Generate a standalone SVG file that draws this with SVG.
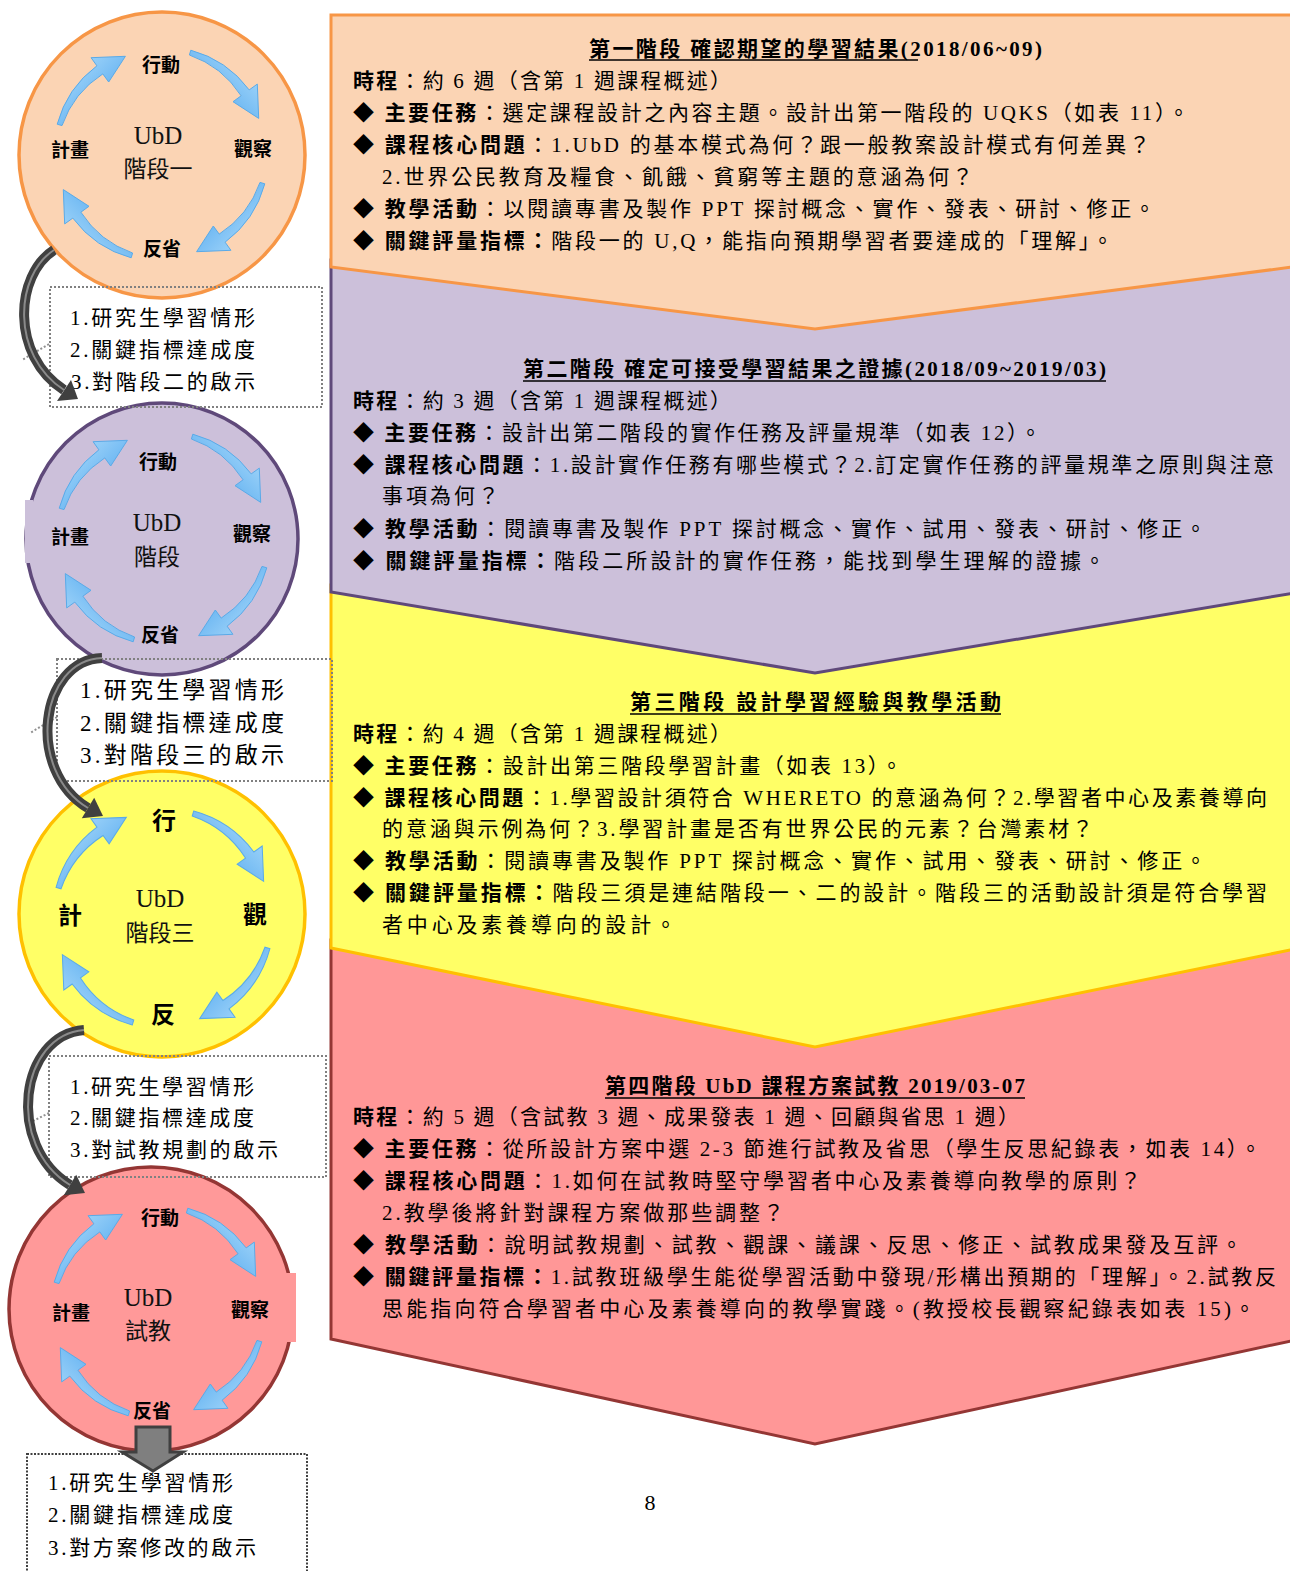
<svg xmlns="http://www.w3.org/2000/svg" xmlns:xlink="http://www.w3.org/1999/xlink" width="1290" height="1571" viewBox="0 0 1290 1571">
<style>
.t{font-family:"Liberation Serif","Noto Sans CJK TC",serif;font-size:21px;fill:#000}
.b{font-weight:bold}
.ttl{font-weight:bold;font-size:21px}
.lbl{font-family:"Noto Sans CJK TC",sans-serif;font-weight:bold;font-size:19px;fill:#000}
.lbl3{font-family:"Noto Sans CJK TC",sans-serif;font-weight:bold;font-size:24px;fill:#000}
.ubd{font-family:"Liberation Serif","Noto Sans CJK TC",serif;font-size:25px;fill:#111}
.stg{font-family:"Noto Sans CJK TC",sans-serif;font-size:23px;fill:#111}
.box{fill:none;stroke:#808080;stroke-width:2;stroke-dasharray:2 2}
.lead{fill:none;stroke:#909090;stroke-width:2;stroke-dasharray:2 2}
.ul{stroke:#000;stroke-width:1.5}
.dk{fill:none;stroke:#404040;stroke-width:10}
.dkh{fill:none;stroke:#8a8a8a;stroke-width:2}
.dkhead{fill:#404040}
</style>
<defs>
<linearGradient id="bg" x1="0" y1="0" x2="1" y2="1">
<stop offset="0" stop-color="#b8e2fc"/>
<stop offset="1" stop-color="#3d9cec"/>
</linearGradient>
<path id="ba" d="M -103.8 -29.8 A 108 108 0 0 1 -64.1 -88.2 L -69.9 -96.3 L -35.6 -97.7 L -52.3 -72.0 L -58.2 -80.1 A 101 101 0 0 0 -99.0 -28.4 Z" fill="url(#bg)" stroke="#5aaae8" stroke-width="1"/>
</defs>

<!-- chevrons -->
<g id="stage4">
<polygon points="331,940 1300,940 1300,1339 815,1444 331,1339" fill="#FF9797" stroke="#943634" stroke-width="3"/>
</g>
<g id="stage3">
<polygon points="331,585 1300,585 1300,948 815,1047 331,948" fill="#FFFF66" stroke="#FFC000" stroke-width="3"/>
</g>
<g id="stage2">
<polygon points="331,260 1300,260 1300,592 815,673 331,592" fill="#CCC0DA" stroke="#5F497A" stroke-width="3"/>
</g>
<g id="stage1">
<polygon points="331,15 1300,15 1300,266 815,329 331,267" fill="#FBD4B4" stroke="#F79646" stroke-width="3"/>
</g>

<!-- stage texts -->
<g id="stage1-text" class="t">
<text class="t ttl" x="589" y="56" textLength="453" lengthAdjust="spacing">第一階段 確認期望的學習結果(2018/06~09)</text>
<line class="ul" x1="589" y1="60" x2="918" y2="60"/>
<text class="t" x="353" y="88" textLength="378" lengthAdjust="spacing"><tspan class="b">時程</tspan>：約 6 週（含第 1 週課程概述）</text>
<text class="t" x="353" y="120" textLength="836" lengthAdjust="spacing">◆ <tspan class="b">主要任務</tspan>：選定課程設計之內容主題。設計出第一階段的 UQKS（如表 11）。</text>
<text class="t" x="353" y="152" textLength="797" lengthAdjust="spacing">◆ <tspan class="b">課程核心問題</tspan>：1.UbD 的基本模式為何？跟一般教案設計模式有何差異？</text>
<text class="t" x="382" y="184" textLength="591" lengthAdjust="spacing">2.世界公民教育及糧食、飢餓、貧窮等主題的意涵為何？</text>
<text class="t" x="353" y="216" textLength="802" lengthAdjust="spacing">◆ <tspan class="b">教學活動</tspan>：以閱讀專書及製作 PPT 探討概念、實作、發表、研討、修正。</text>
<text class="t" x="353" y="248" textLength="760" lengthAdjust="spacing">◆ <tspan class="b">關鍵評量指標：</tspan>階段一的 U,Q，能指向預期學習者要達成的「理解」。</text>
</g>
<g id="stage2-text">
<text class="t ttl" x="523" y="376" textLength="583" lengthAdjust="spacing">第二階段 確定可接受學習結果之證據(2018/09~2019/03)</text>
<line class="ul" x1="523" y1="381" x2="1106" y2="381"/>
<text class="t" x="353" y="408" textLength="378" lengthAdjust="spacing"><tspan class="b">時程</tspan>：約 3 週（含第 1 週課程概述）</text>
<text class="t" x="353" y="440" textLength="688" lengthAdjust="spacing">◆ <tspan class="b">主要任務</tspan>：設計出第二階段的實作任務及評量規準（如表 12）。</text>
<text class="t" x="353" y="472" textLength="921" lengthAdjust="spacing">◆ <tspan class="b">課程核心問題</tspan>：1.設計實作任務有哪些模式？2.訂定實作任務的評量規準之原則與注意</text>
<text class="t" x="382" y="503" textLength="117" lengthAdjust="spacing">事項為何？</text>
<text class="t" x="353" y="536" textLength="853" lengthAdjust="spacing">◆ <tspan class="b">教學活動</tspan>：閱讀專書及製作 PPT 探討概念、實作、試用、發表、研討、修正。</text>
<text class="t" x="353" y="568" textLength="752" lengthAdjust="spacing">◆ <tspan class="b">關鍵評量指標：</tspan>階段二所設計的實作任務，能找到學生理解的證據。</text>
</g>
<g id="stage3-text">
<text class="t ttl" x="630" y="709" textLength="371" lengthAdjust="spacing">第三階段 設計學習經驗與教學活動</text>
<line class="ul" x1="630" y1="714" x2="1001" y2="714"/>
<text class="t" x="353" y="741" textLength="378" lengthAdjust="spacing"><tspan class="b">時程</tspan>：約 4 週（含第 1 週課程概述）</text>
<text class="t" x="353" y="773" textLength="549" lengthAdjust="spacing">◆ <tspan class="b">主要任務</tspan>：設計出第三階段學習計畫（如表 13）。</text>
<text class="t" x="353" y="805" textLength="914" lengthAdjust="spacing">◆ <tspan class="b">課程核心問題</tspan>：1.學習設計須符合 WHERETO 的意涵為何？2.學習者中心及素養導向</text>
<text class="t" x="382" y="836" textLength="711" lengthAdjust="spacing">的意涵與示例為何？3.學習計畫是否有世界公民的元素？台灣素材？</text>
<text class="t" x="353" y="868" textLength="853" lengthAdjust="spacing">◆ <tspan class="b">教學活動</tspan>：閱讀專書及製作 PPT 探討概念、實作、試用、發表、研討、修正。</text>
<text class="t" x="353" y="900" textLength="914" lengthAdjust="spacing">◆ <tspan class="b">關鍵評量指標：</tspan>階段三須是連結階段一、二的設計。階段三的活動設計須是符合學習</text>
<text class="t" x="382" y="932" textLength="294" lengthAdjust="spacing">者中心及素養導向的設計。</text>
</g>
<g id="stage4-text">
<text class="t ttl" x="605" y="1093" textLength="420" lengthAdjust="spacing">第四階段 UbD 課程方案試教 2019/03-07</text>
<line class="ul" x1="605" y1="1098" x2="1025" y2="1098"/>
<text class="t" x="353" y="1124" textLength="666" lengthAdjust="spacing"><tspan class="b">時程</tspan>：約 5 週（含試教 3 週、成果發表 1 週、回顧與省思 1 週）</text>
<text class="t" x="353" y="1156" textLength="908" lengthAdjust="spacing">◆ <tspan class="b">主要任務</tspan>：從所設計方案中選 2-3 節進行試教及省思（學生反思紀錄表，如表 14）。</text>
<text class="t" x="353" y="1188" textLength="788" lengthAdjust="spacing">◆ <tspan class="b">課程核心問題</tspan>：1.如何在試教時堅守學習者中心及素養導向教學的原則？</text>
<text class="t" x="382" y="1220" textLength="402" lengthAdjust="spacing">2.教學後將針對課程方案做那些調整？</text>
<text class="t" x="353" y="1252" textLength="889" lengthAdjust="spacing">◆ <tspan class="b">教學活動</tspan>：說明試教規劃、試教、觀課、議課、反思、修正、試教成果發及互評。</text>
<text class="t" x="353" y="1284" textLength="923" lengthAdjust="spacing">◆ <tspan class="b">關鍵評量指標：</tspan>1.試教班級學生能從學習活動中發現/形構出預期的「理解」。2.試教反</text>
<text class="t" x="382" y="1316" textLength="873" lengthAdjust="spacing">思能指向符合學習者中心及素養導向的教學實踐。(教授校長觀察紀錄表如表 15)。</text>
</g>

<!-- circles -->
<g id="cycle1">
<circle cx="162" cy="155" r="143" fill="#FBD4B4" stroke="#F79646" stroke-width="3.5"/>
<use xlink:href="#ba" href="#ba" transform="translate(161,154)"/>
<use xlink:href="#ba" href="#ba" transform="translate(161,154) rotate(90)"/>
<use xlink:href="#ba" href="#ba" transform="translate(161,154) rotate(180)"/>
<use xlink:href="#ba" href="#ba" transform="translate(161,154) rotate(270)"/>
<text class="ubd" x="158" y="135" text-anchor="middle" dominant-baseline="central">UbD</text>
<text class="stg" x="158" y="167" text-anchor="middle" dominant-baseline="central">階段一</text>
<text class="lbl" x="161" y="63" text-anchor="middle" dominant-baseline="central">行動</text>
<text class="lbl" x="70" y="148" text-anchor="middle" dominant-baseline="central">計畫</text>
<text class="lbl" x="253" y="147" text-anchor="middle" dominant-baseline="central">觀察</text>
<text class="lbl" x="162" y="247" text-anchor="middle" dominant-baseline="central">反省</text>
</g>
<g id="cycle2">
<circle cx="162" cy="539" r="136" fill="#CCC0DA" stroke="#5F497A" stroke-width="3.5"/>
<rect x="25" y="500" width="8" height="63" fill="#CCC0DA"/>
<use xlink:href="#ba" href="#ba" transform="translate(163,538)"/>
<use xlink:href="#ba" href="#ba" transform="translate(163,538) rotate(90)"/>
<use xlink:href="#ba" href="#ba" transform="translate(163,538) rotate(180)"/>
<use xlink:href="#ba" href="#ba" transform="translate(163,538) rotate(270)"/>
<text class="ubd" x="157" y="522" text-anchor="middle" dominant-baseline="central">UbD</text>
<text class="stg" x="157" y="555" text-anchor="middle" dominant-baseline="central">階段</text>
<text class="lbl" x="158" y="460" text-anchor="middle" dominant-baseline="central">行動</text>
<text class="lbl" x="70" y="535" text-anchor="middle" dominant-baseline="central">計畫</text>
<text class="lbl" x="252" y="532" text-anchor="middle" dominant-baseline="central">觀察</text>
<text class="lbl" x="160" y="633" text-anchor="middle" dominant-baseline="central">反省</text>
</g>
<g id="cycle3">
<circle cx="162" cy="914" r="143" fill="#FFFF66" stroke="#FFC000" stroke-width="3.5"/>
<use xlink:href="#ba" href="#ba" transform="translate(163,918) scale(1.03)"/>
<use xlink:href="#ba" href="#ba" transform="translate(163,918) rotate(90) scale(1.03)"/>
<use xlink:href="#ba" href="#ba" transform="translate(163,918) rotate(180) scale(1.03)"/>
<use xlink:href="#ba" href="#ba" transform="translate(163,918) rotate(270) scale(1.03)"/>
<text class="ubd" x="160" y="898" text-anchor="middle" dominant-baseline="central">UbD</text>
<text class="stg" x="160" y="931" text-anchor="middle" dominant-baseline="central">階段三</text>
<text class="lbl3" x="164" y="818" text-anchor="middle" dominant-baseline="central">行</text>
<text class="lbl3" x="70" y="913" text-anchor="middle" dominant-baseline="central">計</text>
<text class="lbl3" x="255" y="912" text-anchor="middle" dominant-baseline="central">觀</text>
<text class="lbl3" x="163" y="1012" text-anchor="middle" dominant-baseline="central">反</text>
</g>
<g id="cycle4">
<circle cx="151" cy="1309" r="142" fill="#FF9999" stroke="#943634" stroke-width="3.5"/>
<rect x="280" y="1273" width="16" height="69" fill="#FF9999"/>
<use xlink:href="#ba" href="#ba" transform="translate(158,1312)"/>
<use xlink:href="#ba" href="#ba" transform="translate(158,1312) rotate(90)"/>
<use xlink:href="#ba" href="#ba" transform="translate(158,1312) rotate(180)"/>
<use xlink:href="#ba" href="#ba" transform="translate(158,1312) rotate(270)"/>
<text class="ubd" x="148" y="1297" text-anchor="middle" dominant-baseline="central">UbD</text>
<text class="stg" x="148" y="1329" text-anchor="middle" dominant-baseline="central">試教</text>
<text class="lbl" x="160" y="1216" text-anchor="middle" dominant-baseline="central">行動</text>
<text class="lbl" x="71" y="1311" text-anchor="middle" dominant-baseline="central">計畫</text>
<text class="lbl" x="250" y="1308" text-anchor="middle" dominant-baseline="central">觀察</text>
<text class="lbl" x="152" y="1409" text-anchor="middle" dominant-baseline="central">反省</text>
</g>

<!-- reflection boxes -->
<g id="note1">
<rect class="box" x="50" y="287" width="272" height="120"/>
<line class="lead" x1="49" y1="344" x2="22" y2="360"/>
<text class="t" x="70" y="325" textLength="185" lengthAdjust="spacing">1.研究生學習情形</text>
<text class="t" x="70" y="357" textLength="185" lengthAdjust="spacing">2.關鍵指標達成度</text>
<text class="t" x="71" y="389" textLength="184" lengthAdjust="spacing">3.對階段二的啟示</text>
</g>
<g id="note2">
<rect class="box" x="57" y="659" width="275" height="122"/>
<line class="lead" x1="57" y1="717" x2="30" y2="733"/>
<text class="t" x="80" y="698" font-size="23" style="font-size:23px" textLength="204" lengthAdjust="spacing">1.研究生學習情形</text>
<text class="t" x="80" y="731" style="font-size:23px" textLength="204" lengthAdjust="spacing">2.關鍵指標達成度</text>
<text class="t" x="80" y="763" style="font-size:23px" textLength="204" lengthAdjust="spacing">3.對階段三的啟示</text>
</g>
<g id="note3">
<rect class="box" x="49" y="1056" width="277" height="121"/>
<line class="lead" x1="49" y1="1113" x2="25" y2="1125"/>
<text class="t" x="70" y="1094" textLength="184" lengthAdjust="spacing">1.研究生學習情形</text>
<text class="t" x="70" y="1125" textLength="184" lengthAdjust="spacing">2.關鍵指標達成度</text>
<text class="t" x="70" y="1157" textLength="208" lengthAdjust="spacing">3.對試教規劃的啟示</text>
</g>
<g id="note4">
<rect x="27" y="1454" width="280" height="130" fill="none" stroke="#404040" stroke-width="2" stroke-dasharray="2 1.5"/>
<text class="t" x="48" y="1490" textLength="185" lengthAdjust="spacing">1.研究生學習情形</text>
<text class="t" x="48" y="1522" textLength="185" lengthAdjust="spacing">2.關鍵指標達成度</text>
<text class="t" x="48" y="1555" textLength="208" lengthAdjust="spacing">3.對方案修改的啟示</text>
</g>

<!-- connectors -->
<g id="connectors">
<path class="dk" d="M 54 250 C 15 275, 10 355, 64 390"/>
<path class="dkh" d="M 54 250 C 15 275, 10 355, 64 390"/>
<polygon class="dkhead" points="57,401 71,380 78,399"/>
<path class="dk" d="M 102 658 C 40 660, 25 770, 88 808"/>
<path class="dkh" d="M 102 658 C 40 660, 25 770, 88 808"/>
<polygon class="dkhead" points="81.8,818.3 94.2,797.7 103,816"/>
<path class="dk" d="M 84 1030 C 20 1035, 5 1145, 70 1185"/>
<path class="dkh" d="M 84 1030 C 20 1035, 5 1145, 70 1185"/>
<polygon class="dkhead" points="63.8,1195.2 76.2,1174.8 85,1193"/>
<polygon points="136,1427 170,1427 170,1452 183,1452 153,1471 122,1452 136,1452" fill="#7F7F7F" stroke="#404040" stroke-width="3"/>
</g>

<text id="page" x="650" y="1510" text-anchor="middle" style="font-family:'Liberation Serif',serif;font-size:22px">8</text>
</svg>
